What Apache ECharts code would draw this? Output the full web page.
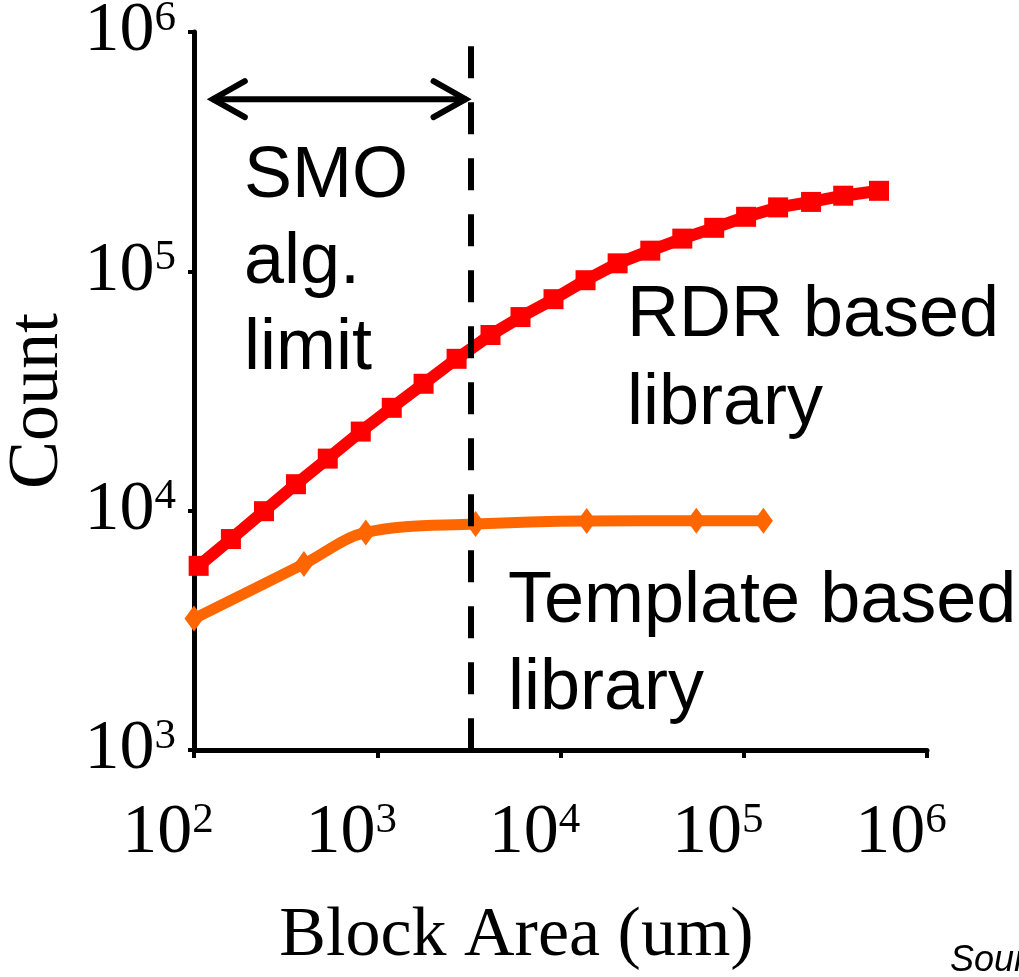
<!DOCTYPE html>
<html>
<head>
<meta charset="utf-8">
<script src="https://cdn.jsdelivr.net/npm/echarts@6/dist/echarts.min.js"></script>
<style>
html,body{margin:0;padding:0;background:#fff;}
#c{width:1019px;height:977px;}
</style>
</head>
<body>
<div id="c"></div>
<script>
// ---- data (log-log plot) ----
const xTickValues = [100, 1000, 10000, 100000, 1000000];
const yTickValues = [1000, 10000, 100000, 1000000];

const rdrArea  = [106, 159, 241, 360, 537, 813, 1200, 1790, 2710, 4150, 6050, 9160, 13700, 20500, 30900, 46200, 69000, 103000, 154000, 233000, 349000, 547000];
const rdrCount = [5880, 7610, 9950, 12900, 16500, 21400, 26900, 33900, 43100, 54200, 64400, 76500, 91800, 108000, 122000, 137000, 152000, 169000, 185000, 195000, 207000, 217000];

const tmplArea  = [100, 398, 866, 3440, 13900, 55100, 128000];
const tmplCount = [3540, 5990, 8110, 8790, 9060, 9080, 9080];

const smoLimitArea = 3230;      // dashed vertical line
const smoLineTopCount = 871000;
const smoArrowLeftArea = 119;
const smoArrowCount = 524000;

const annSMO = 'SMO\nalg.\nlimit';
const annRDR = 'RDR based\nlibrary';
const annTmpl = 'Template based\nlibrary';
const sourceText = 'Source';

const serif = '"Liberation Serif", "Times New Roman", serif';
const sans = '"Liberation Sans", Arial, sans-serif';

function expLabel(v) {
  const e = Math.round(Math.log10(v));
  return '{b|10}{s|' + e + '}';
}
const tickRich = {
  b: { fontFamily: serif, fontSize: 70, lineHeight: 70, color: '#000' },
  s: { fontFamily: serif, fontSize: 43, lineHeight: 43, verticalAlign: 'top', color: '#000' }
};

const chart = echarts.init(document.getElementById('c'), null, { renderer: 'canvas' });

const option = {
  animation: false,
  backgroundColor: '#fff',
  grid: { left: 194, right: 92, top: 32, bottom: 227, containLabel: false, outerBoundsMode: 'none' },
  xAxis: {
    type: 'log', logBase: 10, min: xTickValues[0], max: xTickValues[xTickValues.length - 1],
    name: 'Block Area (um)', nameLocation: 'middle', nameGap: 152,
    nameTextStyle: { fontFamily: serif, fontSize: 70, color: '#000', padding: [0, 88, 0, 0] },
    axisLine: { show: true, onZero: false, lineStyle: { color: '#000', width: 5 } },
    axisTick: { show: true, length: 8, lineStyle: { color: '#000', width: 4 } },
    minorTick: { show: false },
    splitLine: { show: false },
    axisLabel: { formatter: expLabel, rich: tickRich, margin: 49, padding: [0, 52, 0, 0] }
  },
  yAxis: {
    type: 'log', logBase: 10, min: yTickValues[0], max: yTickValues[yTickValues.length - 1],
    name: 'Count', nameLocation: 'middle', nameGap: 108, nameRotate: 90,
    nameTextStyle: { fontFamily: serif, fontSize: 72, color: '#000', padding: [0, 20, 0, 0] },
    axisLine: { show: true, onZero: false, lineStyle: { color: '#000', width: 5 } },
    axisTick: { show: true, length: 6, lineStyle: { color: '#000', width: 4 } },
    minorTick: { show: false },
    splitLine: { show: false },
    axisLabel: { formatter: expLabel, rich: tickRich, margin: 18 }
  },
  series: [
    {
      name: 'RDR based library', type: 'line',
      data: rdrArea.map((x, i) => [x, rdrCount[i]]),
      symbol: 'rect', symbolSize: 20,
      lineStyle: { color: '#FF0000', width: 12 },
      itemStyle: { color: '#FF0000' },
      z: 3,
      markLine: {
        silent: true, symbol: ['none', 'none'], label: { show: false },
        lineStyle: { color: '#000', width: 6, type: [32, 24] },
        emphasis: { disabled: true },
        data: [[{ coord: [smoLimitArea, smoLineTopCount] }, { coord: [smoLimitArea, yTickValues[0]] }]]
      }
    },
    {
      name: 'Template based library', type: 'line',
      data: tmplArea.map((x, i) => [x, tmplCount[i]]),
      symbol: 'diamond', symbolSize: [19, 26],
      smooth: 0.35,
      lineStyle: { color: '#FF6600', width: 11 },
      itemStyle: { color: '#FF6600' },
      z: 3
    }
  ]
};
chart.setOption(option);

const pL = chart.convertToPixel({ gridIndex: 0 }, [smoArrowLeftArea, smoArrowCount]);
const pR = chart.convertToPixel({ gridIndex: 0 }, [smoLimitArea, smoArrowCount]);
const ay = pL[1];
const arrowStyle = { stroke: '#000', lineWidth: 6, lineCap: 'round', lineJoin: 'miter', fill: null };

chart.setOption({
  graphic: [
    { type: 'line', shape: { x1: pL[0] + 4, y1: ay, x2: pR[0] - 4, y2: ay }, style: { stroke: '#000', lineWidth: 6 }, z: 10 },
    { type: 'polyline', shape: { points: [[pL[0] + 37, ay - 18], [pL[0] + 5, ay], [pL[0] + 37, ay + 18]] }, style: arrowStyle, z: 10 },
    { type: 'polyline', shape: { points: [[pR[0] - 37, ay - 18], [pR[0] - 5, ay], [pR[0] - 37, ay + 18]] }, style: arrowStyle, z: 10 },
    { type: 'text', left: 244, top: 134, style: { text: annSMO, font: '72px ' + sans, fill: '#000', lineHeight: 86 }, z: 10 },
    { type: 'text', left: 627, top: 272, style: { text: annRDR, font: '72px ' + sans, fill: '#000', lineHeight: 88 }, z: 10 },
    { type: 'text', left: 508, top: 559, style: { text: annTmpl, font: '72px ' + sans, fill: '#000', lineHeight: 87 }, z: 10 },
    { type: 'text', left: 950, top: 943, style: { text: sourceText, font: 'italic 36px ' + sans, fill: '#000' }, z: 10 }
  ]
});
</script>
</body>
</html>
